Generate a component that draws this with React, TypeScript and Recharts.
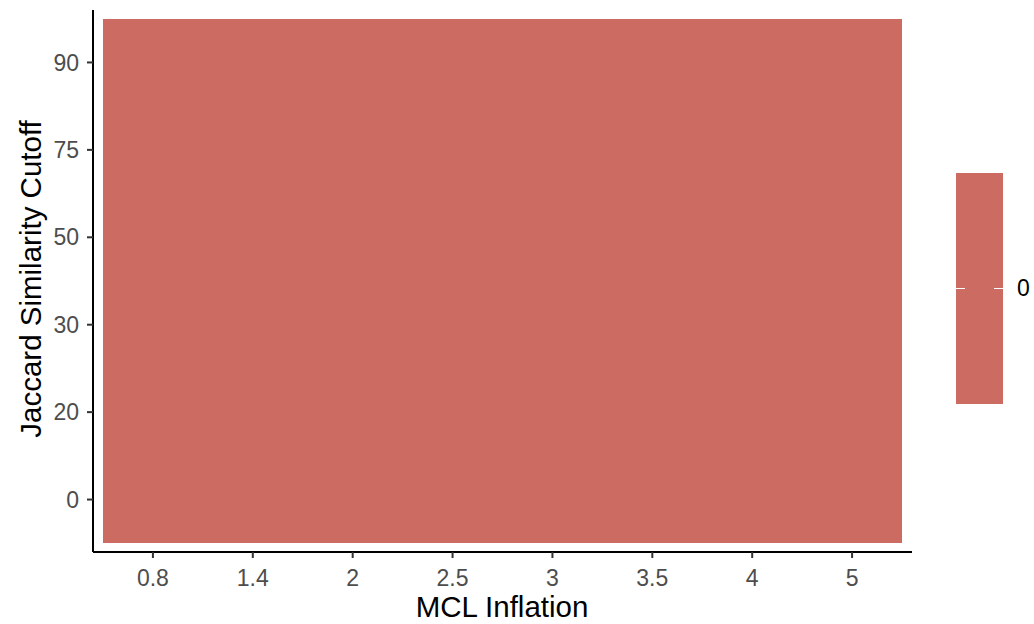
import React from "react";
import { ScatterChart, Scatter, XAxis, YAxis, Label } from "recharts";

// MCL inflation values (x categories) and Jaccard cutoffs (y categories)
const inflations = ["0.8", "1.4", "2", "2.5", "3", "3.5", "4", "5"];
const cutoffs = ["0", "20", "30", "50", "75", "90"];
// every cell in the grid has the same value
const cellValues = [
  [0, 0, 0, 0, 0, 0, 0, 0],
  [0, 0, 0, 0, 0, 0, 0, 0],
  [0, 0, 0, 0, 0, 0, 0, 0],
  [0, 0, 0, 0, 0, 0, 0, 0],
  [0, 0, 0, 0, 0, 0, 0, 0],
  [0, 0, 0, 0, 0, 0, 0, 0],
];
const legendTicks = ["0"];

const W = 1034;
const H = 624;
const MARGIN = { top: 10, right: 122, left: 0, bottom: 0 };
const Y_AXIS_W = 93;
const X_AXIS_H = 72;
const PLOT_W = W - MARGIN.left - MARGIN.right - Y_AXIS_W;
const PLOT_H = H - MARGIN.top - MARGIN.bottom - X_AXIS_H;
// discrete scales are padded by 0.6 of a step, like ggplot
const X_DOMAIN: [number, number] = [-0.6, inflations.length - 1 + 0.6];
const Y_DOMAIN: [number, number] = [-0.6, cutoffs.length - 1 + 0.6];
const CELL_W = PLOT_W / (X_DOMAIN[1] - X_DOMAIN[0]);
const CELL_H = PLOT_H / (Y_DOMAIN[1] - Y_DOMAIN[0]);

const TILE = "#CC6B61";
const colorFor = (_v: number) => TILE;

const cells = cellValues.flatMap((row, yi) =>
  row.map((value, xi) => ({ xi, yi, value }))
);

const TEXT = "#4D4D4D";
const FONT = "'Liberation Sans', Arial, sans-serif";

function Tile(props: any) {
  const { cx, cy, payload } = props;
  const x0 = Math.round(cx - CELL_W / 2);
  const x1 = Math.round(cx + CELL_W / 2);
  const y0 = Math.round(cy - CELL_H / 2);
  const y1 = Math.round(cy + CELL_H / 2);
  return (
    <rect
      x={x0}
      y={y0}
      width={x1 - x0}
      height={y1 - y0}
      fill={colorFor(payload.value)}
      shapeRendering="crispEdges"
    />
  );
}

export default function App() {
  return (
    <div style={{ position: "absolute", left: 0, top: 0, width: W, height: H, background: "#fff", fontFamily: FONT }}>
      <ScatterChart width={W} height={H} margin={MARGIN}>
        <XAxis
          type="number"
          dataKey="xi"
          domain={X_DOMAIN}
          ticks={inflations.map((_, i) => i)}
          tickFormatter={(i: number) => inflations[i] ?? ""}
          height={X_AXIS_H}
          allowDataOverflow
          axisLine={{ stroke: "#000", strokeWidth: 2 }}
          tickLine={{ stroke: "#333", strokeWidth: 2 }}
          tickSize={6}
          tickMargin={12}
          tick={{ fill: TEXT, fontSize: 23, fontFamily: FONT }}
        >
          <Label
            content={() => (
              <text x={502} y={617} textAnchor="middle" fill="#000" fontSize={29.5} fontFamily={FONT}>
                MCL Inflation
              </text>
            )}
          />
        </XAxis>
        <YAxis
          type="number"
          dataKey="yi"
          domain={Y_DOMAIN}
          ticks={cutoffs.map((_, i) => i)}
          tickFormatter={(i: number) => cutoffs[i] ?? ""}
          width={Y_AXIS_W}
          allowDataOverflow
          axisLine={{ stroke: "#000", strokeWidth: 2 }}
          tickLine={{ stroke: "#333", strokeWidth: 2 }}
          tickSize={6}
          tickMargin={8}
          tick={{ fill: TEXT, fontSize: 23, fontFamily: FONT }}
        >
          <Label
            content={() => (
              <text
                x={41}
                y={279}
                textAnchor="middle"
                fill="#000"
                fontSize={29.5}
                fontFamily={FONT}
                transform="rotate(-90 41 279)"
              >
                Jaccard Similarity Cutoff
              </text>
            )}
          />
        </YAxis>
        <Scatter data={cells} shape={Tile} isAnimationActive={false} />
      </ScatterChart>

      {/* colour bar legend */}
      <div style={{ position: "absolute", left: 956, top: 173, width: 47, height: 231, background: TILE }}>
        {legendTicks.map((t) => (
          <React.Fragment key={t}>
            <div style={{ position: "absolute", left: 0, top: 115, width: 9, height: 1, background: "#fff" }} />
            <div style={{ position: "absolute", right: 0, top: 115, width: 9, height: 1, background: "#fff" }} />
            <div style={{ position: "absolute", left: 61, top: 102, fontSize: 23, lineHeight: "26px", color: "#000" }}>{t}</div>
          </React.Fragment>
        ))}
      </div>
    </div>
  );
}
